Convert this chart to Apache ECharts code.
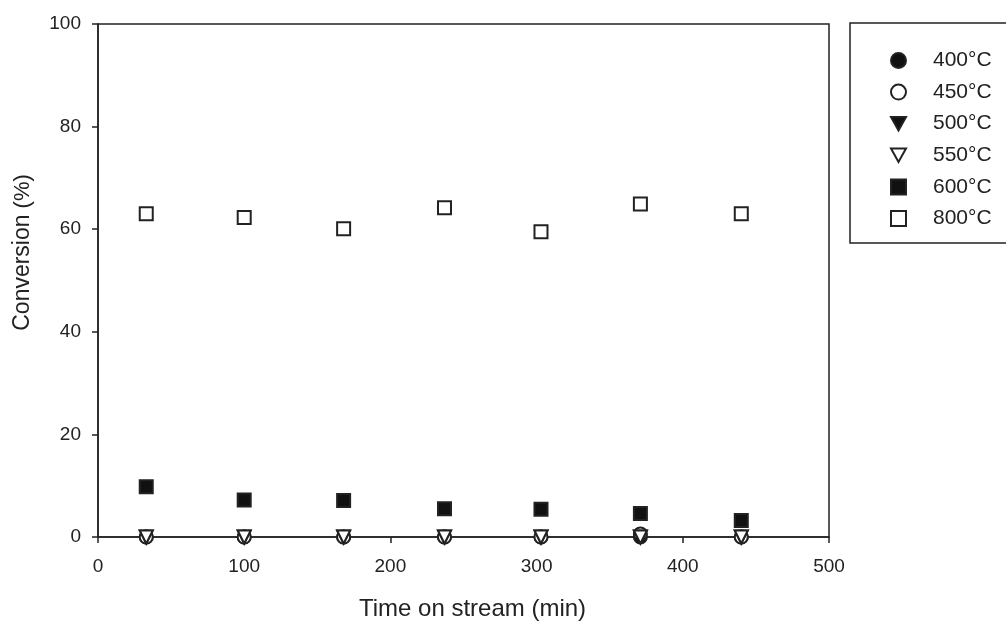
<!DOCTYPE html>
<html>
<head>
<meta charset="utf-8">
<script src="https://cdn.jsdelivr.net/npm/echarts@6/dist/echarts.min.js"></script>
<style>html,body{margin:0;padding:0;background:#fff;}#c{width:1006px;height:622px;}</style>
</head>
<body>
<div id="c"></div>
<script>
const times = [33, 100, 168, 237, 303, 371, 440];
const s400 = [0, 0, 0, 0, 0, 0, 0];
const s450 = [0, 0, 0, 0, 0, 0.6, 0];
const s500 = [0, 0, 0, 0, 0, 0, 0];
const s550 = [0, 0, 0, 0, 0, 0, 0];
const s600 = [9.8, 7.2, 7.1, 5.5, 5.4, 4.6, 3.2];
const s800 = [63.0, 62.3, 60.1, 64.2, 59.5, 64.9, 63.0];
const names = ['400°C', '450°C', '500°C', '550°C', '600°C', '800°C'];
const xTicks = [0, 100, 200, 300, 400, 500];
const yTicks = [0, 20, 40, 60, 80, 100];

const tri = 'path://M0,0 L10,0 L5,9 Z';
const styles = [
  {symbol: 'circle', fill: '#111'},
  {symbol: 'circle', fill: '#fff'},
  {symbol: tri, fill: '#111'},
  {symbol: tri, fill: '#fff'},
  {symbol: 'rect', fill: '#111'},
  {symbol: 'rect', fill: '#fff'}
];
const data = [s400, s450, s500, s550, s600, s800];
const FONT = 'Liberation Sans, Arial, sans-serif';

const chart = echarts.init(document.getElementById('c'), null, {renderer: 'canvas'});
const series = data.map((vals, i) => ({
  name: names[i],
  type: 'scatter',
  symbol: styles[i].symbol,
  symbolSize: 13,
  itemStyle: {color: styles[i].fill, borderColor: '#222', borderWidth: 2, opacity: 1},
  data: times.map((t, k) => [t, vals[k]]),
  z: 2 + i
}));

chart.setOption({
  animation: false,
  backgroundColor: '#fff',
  grid: {left: 98, right: 177, top: 24, bottom: 85, outerBoundsMode: 'none', containLabel: false,
    show: true, borderColor: '#222', borderWidth: 1.5, backgroundColor: 'transparent'},
  xAxis: {
    type: 'value', min: 0, max: 500, interval: 100,
    axisLine: {show: true, lineStyle: {color: '#222', width: 1.5}},
    axisTick: {show: true, inside: false, length: 6, lineStyle: {color: '#222', width: 1.5}},
    axisLabel: {color: '#222', fontSize: 19, fontFamily: FONT, margin: 20,
      formatter: v => xTicks.includes(v) ? String(v) : ''},
    splitLine: {show: false},
    name: 'Time on stream (min)', nameLocation: 'middle', nameGap: 60,
    nameTextStyle: {color: '#222', fontSize: 24, fontFamily: FONT, padding: [0, 0, 0, 18]}
  },
  yAxis: {
    type: 'value', min: 0, max: 100, interval: 20,
    axisLine: {show: true, lineStyle: {color: '#222', width: 1.5}},
    axisTick: {show: true, inside: false, length: 6, lineStyle: {color: '#222', width: 1.5}},
    axisLabel: {color: '#222', fontSize: 19, fontFamily: FONT, margin: 17,
      formatter: v => yTicks.includes(v) ? String(v) : ''},
    splitLine: {show: false},
    name: '{a|Conversion}{b|(%)}', nameLocation: 'middle', nameGap: 64,
    nameTextStyle: {padding: [0, 0, 0, 56], rich: {
      a: {color: '#222', fontSize: 23, fontFamily: FONT},
      b: {color: '#222', fontSize: 22, fontFamily: FONT, padding: [0, 0, 0, 6]}
    }}
  },
  legend: {
    orient: 'vertical', left: 885, top: 45, itemGap: 10.6, itemWidth: 15, itemHeight: 15,
    textStyle: {color: '#222', fontSize: 21, lineHeight: 21, fontFamily: FONT, padding: [0, 0, 0, 22]},
    data: names
  },
  graphic: [{
    type: 'rect', shape: {x: 850, y: 23, width: 165, height: 220},
    style: {fill: 'transparent', stroke: '#222', lineWidth: 1.5}, z: 0
  }],
  series: series
});
</script>
</body>
</html>
